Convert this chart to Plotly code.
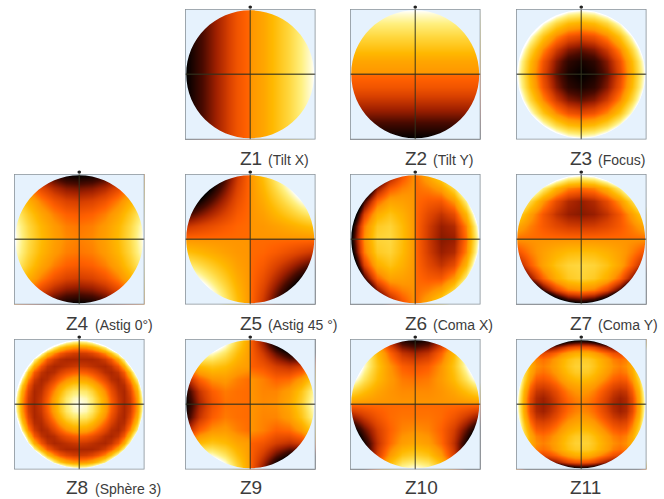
import plotly.graph_objects as go

# Grid positions inside a disk. The "split" grids carry the step seen along the cross hairs.
x_plain = [-1, -0.8, -0.6, -0.4, -0.2, 0, 0.2, 0.4, 0.6, 0.8, 1]
y_plain = [1, 0.8, 0.6, 0.4, 0.2, 0, -0.2, -0.4, -0.6, -0.8, -1]
x_split = [-1, -0.8, -0.6, -0.4, -0.2, -0.001, 0.001, 0.2, 0.4, 0.6, 0.8, 1]
y_split = [1, 0.8, 0.6, 0.4, 0.2, 0.001, -0.001, -0.2, -0.4, -0.6, -0.8, -1]
x_fine = [-1, -0.9, -0.8, -0.7, -0.6, -0.5, -0.4, -0.3, -0.2, -0.1, 0,
          0.1, 0.2, 0.3, 0.4, 0.5, 0.6, 0.7, 0.8, 0.9, 1]
y_fine = x_fine[::-1]

z1 = [[0, 10, 20, 30, 40, 46, 54, 60, 70, 80, 90, 100]] * 11
z2 = [[100] * 11, [90] * 11, [80] * 11, [70] * 11, [60] * 11, [54] * 11,
      [46] * 11, [40] * 11, [30] * 11, [20] * 11, [10] * 11, [0] * 11]
# Z3, Z4: top-right quadrant, rows y = 1..0, columns |x| = 0..1
z3_quadrant = [
    [100, 104, 116, 136, 164, 200],
    [64, 68, 80, 100, 128, 164],
    [36, 40, 52, 72, 100, 136],
    [16, 20, 32, 52, 80, 116],
    [4, 8, 20, 40, 68, 104],
    [0, 4, 16, 36, 64, 100],
]
z4_quadrant = [
    [0, 2, 8, 18, 32, 50],
    [18, 20, 26, 36, 50, 68],
    [32, 34, 40, 50, 64, 82],
    [42, 44, 50, 60, 74, 92],
    [48, 50, 56, 66, 80, 98],
    [50, 52, 58, 68, 82, 100],
]
z5 = [
    [-50, -30, -10, 10, 30, 46, 54, 70, 90, 110, 130, 150],
    [-30, -14, 2, 18, 34, 46, 54, 66, 82, 98, 114, 130],
    [-10, 2, 14, 26, 38, 46, 54, 62, 74, 86, 98, 110],
    [10, 18, 26, 34, 42, 46, 54, 58, 66, 74, 82, 90],
    [30, 34, 38, 42, 45, 46, 54, 55, 58, 62, 66, 70],
    [46, 46, 46, 46, 46, 46, 54, 54, 54, 54, 54, 54],
    [54, 54, 54, 54, 54, 54, 46, 46, 46, 46, 46, 46],
    [70, 66, 62, 58, 55, 54, 46, 45, 42, 38, 34, 30],
    [90, 82, 74, 66, 58, 54, 46, 42, 34, 26, 18, 10],
    [110, 98, 86, 74, 62, 54, 46, 38, 26, 14, 2, -10],
    [130, 114, 98, 82, 66, 54, 46, 34, 18, 2, -14, -30],
    [150, 130, 110, 90, 70, 54, 46, 30, 10, -10, -30, -50],
]
# Z6: right/left differ, rows y = 1..0 then mirrored
z6_upper = [
    [-150, -67, -12, 20, 39, 54, 46, 61, 80, 112, 167, 250],
    [-96, -24, 20, 42, 50, 54, 46, 50, 58, 80, 124, 196],
    [-54, 10, 45, 59, 58, 54, 46, 42, 41, 55, 90, 154],
    [-24, 34, 63, 71, 64, 54, 46, 36, 29, 37, 66, 124],
    [-6, 49, 74, 78, 68, 54, 46, 32, 22, 26, 51, 106],
    [0, 53, 78, 80, 69, 54, 46, 31, 20, 22, 47, 100],
]
# Z7, Z10: rows over y, columns |x| = 0..1
z7_half = [
    [100, 106, 124, 154, 196, 250],
    [47, 51, 66, 90, 124, 167],
    [22, 26, 37, 55, 80, 112],
    [20, 22, 29, 41, 58, 80],
    [31, 32, 36, 42, 50, 61],
    [46, 46, 46, 46, 46, 46],
    [54, 54, 54, 54, 54, 54],
    [69, 68, 64, 58, 50, 39],
    [80, 78, 71, 59, 42, 20],
    [78, 74, 63, 45, 20, -12],
    [53, 49, 34, 10, -24, -67],
    [0, -6, -24, -54, -96, -150],
]
# Z8, Z11: top-right quadrant on the fine grid, rows y = 1..0, columns |x| = 0..1
z8_quadrant = [
    [100, 103, 112, 129, 156, 194, 247, 319, 415, 540, 700],
    [54, 56, 62, 73, 91, 119, 160, 217, 296, 401, 540],
    [31, 32, 35, 41, 52, 71, 100, 144, 208, 296, 415],
    [25, 25, 25, 27, 32, 42, 62, 94, 144, 217, 319],
    [31, 30, 28, 26, 25, 29, 40, 62, 100, 160, 247],
    [44, 42, 38, 33, 27, 25, 29, 42, 71, 119, 194],
    [60, 58, 52, 44, 35, 27, 25, 32, 52, 91, 156],
    [75, 73, 66, 56, 44, 33, 26, 27, 41, 73, 129],
    [88, 86, 78, 66, 52, 38, 28, 25, 35, 62, 112],
    [97, 94, 86, 73, 58, 42, 30, 25, 32, 56, 103],
    [100, 97, 88, 75, 60, 44, 31, 25, 31, 54, 100],
]
z11_quadrant = [
    [0, -2, -6, -12, -19, -25, -28, -26, -14, 10, 50],
    [40, 39, 35, 28, 21, 15, 12, 15, 26, 50, 90],
    [64, 63, 58, 52, 45, 39, 36, 39, 50, 74, 114],
    [75, 74, 70, 64, 57, 50, 47, 50, 61, 85, 126],
    [78, 77, 72, 66, 59, 53, 50, 53, 64, 88, 128],
    [75, 74, 69, 63, 56, 50, 47, 50, 61, 85, 125],
    [69, 67, 63, 57, 50, 44, 41, 43, 55, 79, 119],
    [62, 60, 56, 50, 43, 37, 34, 36, 48, 72, 112],
    [56, 54, 50, 44, 37, 31, 28, 30, 42, 65, 106],
    [52, 50, 46, 40, 33, 27, 23, 26, 37, 61, 102],
    [50, 48, 44, 38, 31, 25, 22, 25, 36, 60, 100],
]
# Z9: rows y = 1..0 then mirrored
z9_upper = [
    [150, 144, 129, 107, 80, 56, 44, 20, -7, -29, -44, -50],
    [96, 101, 97, 85, 69, 56, 44, 31, 15, 3, -1, 4],
    [54, 68, 72, 68, 60, 56, 44, 40, 32, 28, 32, 46],
    [24, 44, 54, 56, 50, 46, 54, 50, 44, 46, 56, 76],
    [6, 29, 43, 49, 47, 46, 54, 51, 51, 57, 71, 94],
    [0, 24, 39, 47, 47, 46, 54, 52, 53, 61, 76, 100],
]
z10_half = [
    [0, 6, 24, 54, 96, 150],
    [24, 29, 44, 68, 101, 144],
    [39, 43, 54, 72, 97, 129],
    [47, 49, 56, 68, 85, 107],
    [52, 52, 54, 60, 69, 80],
    [54, 54, 54, 54, 54, 54],
    [46, 46, 46, 46, 46, 46],
    [48, 48, 46, 40, 31, 20],
    [53, 51, 44, 32, 15, -7],
    [61, 57, 46, 28, 3, -29],
    [76, 71, 56, 32, -1, -44],
    [100, 94, 76, 46, 4, -50],
]


def mirror_x(rows):
    return [row[:0:-1] + row for row in rows]


def mirror_y(rows):
    return rows + rows[-2::-1]


z3 = mirror_y(mirror_x(z3_quadrant))
z4 = mirror_y(mirror_x(z4_quadrant))
z6 = mirror_y(z6_upper)
z7 = mirror_x(z7_half)
z8 = mirror_y(mirror_x(z8_quadrant))
z9 = mirror_y(z9_upper)
z10 = mirror_x(z10_half)
z11 = mirror_y(mirror_x(z11_quadrant))

panels = [z1, z2, z3, z4, z5, z6, z7, z8, z9, z10, z11]
xs = [x_split, x_plain, x_plain, x_plain, x_split, x_split, x_plain, x_fine, x_split, x_plain, x_fine]
ys = [y_plain, y_split, y_plain, y_plain, y_split, y_plain, y_split, y_fine, y_plain, y_split, y_fine]
names = ["Z1", "Z2", "Z3", "Z4", "Z5", "Z6", "Z7", "Z8", "Z9", "Z10", "Z11"]
notes = ["(Tilt X)", "(Tilt Y)", "(Focus)", "(Astig 0°)", "(Astig 45 °)", "(Coma X)",
         "(Coma Y)", "(Sphère 3)", "", "", ""]

# Layout in page pixels (separate from the data)
W, H = 664, 499
BOX = 130.5
col_left = {0: 14, 1: 185, 2: 350, 3: 516}
row_top = {0: 9, 1: 174, 2: 339}
cells = [(0, 1), (0, 2), (0, 3), (1, 0), (1, 1), (1, 2), (1, 3), (2, 0), (2, 1), (2, 2), (2, 3)]
name_x = {0: 64, 1: 238, 2: 403, 3: 568}
note_x = {0: 93, 1: 266, 2: 431, 3: 596}
name_y = {0: 158, 1: 323, 2: 487}
note_y = {0: 160, 1: 325, 2: 489}

hot = [
    [0.0, "#000000"], [0.125, "#4a0a00"], [0.23, "#a02000"], [0.33, "#d84000"],
    [0.44, "#ff6000"], [0.46, "#ff6a00"], [0.54, "#ff9500"], [0.67, "#ffb800"],
    [0.8, "#ffd840"], [0.9, "#fff080"], [0.97, "#fffbd0"], [1.0, "#ffffff"],
]

PANEL_BG = "#e6f2fd"
BORDER = "#8b9298"
CROSS = "rgba(50,50,30,0.75)"
TEXT = "#3c3c3c"
R = 1.0
E = 1.02
K = 0.5523 * R
mask = (
    f"M{-E},{-E} L{E},{-E} L{E},{E} L{-E},{E} Z "
    f"M{R},0 C{R},{-K} {K},{-R} 0,{-R} C{-K},{-R} {-R},{-K} {-R},0 "
    f"C{-R},{K} {-K},{R} 0,{R} C{K},{R} {R},{K} {R},0 Z"
)

fig = go.Figure()
layout = {}
shapes = []
annotations = []
for i, (vals, (r, c)) in enumerate(zip(panels, cells), start=1):
    xa, ya = f"x{i}", f"y{i}"
    left, top = col_left[c], row_top[r]
    fig.add_trace(go.Heatmap(
        x=xs[i - 1], y=ys[i - 1], z=vals, xaxis=xa, yaxis=ya, zmin=0, zmax=100,
        colorscale=hot, zsmooth="best", showscale=False, hoverinfo="skip",
    ))
    layout[f"xaxis{i}"] = dict(domain=[left / W, (left + BOX) / W], range=[-E, E],
                               visible=False, anchor=ya, fixedrange=True)
    layout[f"yaxis{i}"] = dict(domain=[1 - (top + BOX) / H, 1 - top / H], range=[-E, E],
                               visible=False, anchor=xa, fixedrange=True)
    shapes += [
        dict(type="path", path=mask, xref=xa, yref=ya, fillcolor=PANEL_BG,
             line=dict(width=0), layer="above"),
        dict(type="line", xref=xa, yref=ya, x0=-E, x1=E, y0=0, y1=0,
             line=dict(color=CROSS, width=1.3), layer="above"),
        dict(type="line", xref=xa, yref=ya, x0=0, x1=0, y0=-E, y1=E,
             line=dict(color=CROSS, width=1.3), layer="above"),
        dict(type="rect", xref=xa, yref=ya, x0=-E, x1=E, y0=-E, y1=E,
             line=dict(color=BORDER, width=1.6), fillcolor="rgba(0,0,0,0)", layer="above"),
        dict(type="circle", xref="paper", yref="paper",
             x0=(left + BOX / 2 - 1.8) / W, x1=(left + BOX / 2 + 1.8) / W,
             y0=1 - (top - 0.2) / H, y1=1 - (top - 3.6) / H,
             fillcolor="#222222", line=dict(width=0), layer="above"),
    ]
    annotations.append(dict(text=names[i - 1], xref="paper", yref="paper",
                            x=name_x[c] / W, y=1 - name_y[r] / H, xanchor="left", yanchor="middle",
                            showarrow=False, font=dict(family="Liberation Sans", size=19, color=TEXT)))
    if notes[i - 1]:
        annotations.append(dict(text=notes[i - 1], xref="paper", yref="paper",
                                x=note_x[c] / W, y=1 - note_y[r] / H, xanchor="left", yanchor="middle",
                                showarrow=False, font=dict(family="Liberation Sans", size=14, color=TEXT)))

fig.update_layout(width=W, height=H, margin=dict(l=0, r=0, t=0, b=0), showlegend=False,
                  paper_bgcolor="white", plot_bgcolor="white",
                  shapes=shapes, annotations=annotations, **layout)
fig.write_html("out.html", config={"displayModeBar": False},
               post_script="document.body.style.margin='0';document.body.style.overflow='hidden';")
